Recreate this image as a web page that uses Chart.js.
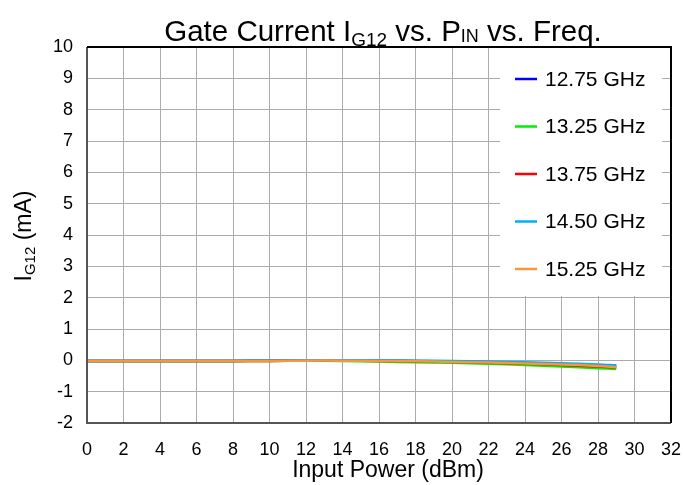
<!DOCTYPE html>
<html>
<head>
<meta charset="utf-8">
<script src="https://cdn.jsdelivr.net/npm/chart.js@4.4.1/dist/chart.umd.min.js"></script>
<style>
  html, body { margin: 0; padding: 0; background: #fff; overflow: hidden; }
  #wrap { width: 683px; height: 485px; }
</style>
</head>
<body>
<div id="wrap"><canvas id="gateChart"></canvas></div>
<script>
// Datos
const pin = [0, 2, 4, 6, 8, 10, 12, 14, 16, 18, 20, 22, 24, 26, 28, 29];
const freqLabels = ['12.75 GHz', '13.25 GHz', '13.75 GHz', '14.50 GHz', '15.25 GHz'];
const colors = ['#0000ff', '#00ee00', '#ff0000', '#00b0f0', '#f7963c'];

const ig1275 = [-0.02, -0.02, -0.02, -0.02, -0.02, -0.01, 0, 0, -0.01, -0.02, -0.04, -0.06, -0.09, -0.12, -0.16, -0.19];
const ig1325 = [-0.02, -0.02, -0.02, -0.02, -0.02, -0.02, -0.01, -0.02, -0.04, -0.06, -0.08, -0.11, -0.15, -0.20, -0.25, -0.28];
const ig1375 = [-0.02, -0.02, -0.02, -0.02, -0.02, -0.02, -0.01, -0.01, -0.02, -0.03, -0.05, -0.08, -0.11, -0.15, -0.20, -0.23];
const ig1450 = [-0.02, -0.02, -0.02, -0.02, -0.02, -0.01, 0, 0, 0, -0.01, -0.02, -0.04, -0.06, -0.09, -0.13, -0.16];
const ig1525 = [-0.02, -0.02, -0.02, -0.02, -0.02, -0.02, -0.01, -0.01, -0.02, -0.03, -0.05, -0.07, -0.10, -0.13, -0.18, -0.22];
const series = [ig1275, ig1325, ig1375, ig1450, ig1525];

const xTicks = [0, 2, 4, 6, 8, 10, 12, 14, 16, 18, 20, 22, 24, 26, 28, 30, 32];
const yTicks = [-2, -1, 0, 1, 2, 3, 4, 5, 6, 7, 8, 9, 10];

const FONT = "'Liberation Sans', Arial, Helvetica, sans-serif";

// Dibuja un texto con partes en subíndice
function drawParts(ctx, parts, x, y, align) {
  let total = 0;
  parts.forEach(p => { ctx.font = p.size + 'px ' + FONT; p.w = ctx.measureText(p.t).width; total += p.w; });
  let cx = align === 'center' ? x - total / 2 : x;
  ctx.textAlign = 'left';
  ctx.textBaseline = 'alphabetic';
  parts.forEach(p => {
    ctx.font = p.size + 'px ' + FONT;
    ctx.fillText(p.t, cx, y + (p.dy || 0));
    cx += p.w;
  });
}

const decorPlugin = {
  id: 'decor',
  afterDraw(chart) {
    const ctx = chart.ctx;
    const a = chart.chartArea;
    ctx.save();
    ctx.fillStyle = '#000';
    // Título
    drawParts(ctx, [
      { t: 'Gate Current I', size: 29.5 },
      { t: 'G12', size: 19, dy: 5 },
      { t: ' vs. P', size: 29.5 },
      { t: 'IN', size: 18, dy: 1 },
      { t: ' vs. Freq.', size: 29.5 }
    ], 383, 41, 'center');

    // Título del eje X
    drawParts(ctx, [{ t: 'Input Power (dBm)', size: 23 }], 388, 477, 'center');

    // Título del eje Y
    ctx.save();
    ctx.translate(31, 236);
    ctx.rotate(-Math.PI / 2);
    drawParts(ctx, [
      { t: 'I', size: 23 },
      { t: 'G12', size: 15, dy: 4 },
      { t: ' (mA)', size: 23 }
    ], 0, 0, 'center');
    ctx.restore();

    // Leyenda dentro del área
    ctx.fillStyle = '#fff';
    ctx.fillRect(500, a.top + 1, 162, 248);
    chart.data.datasets.forEach((ds, i) => {
      const y = a.top + 32 + i * 47.5;
      ctx.strokeStyle = ds.borderColor;
      ctx.lineWidth = 2.5;
      ctx.beginPath();
      ctx.moveTo(515, y);
      ctx.lineTo(537, y);
      ctx.stroke();
      ctx.fillStyle = '#000';
      ctx.font = '21px ' + FONT;
      ctx.textAlign = 'left';
      ctx.textBaseline = 'middle';
      ctx.fillText(ds.label, 545, y + 1);
    });

    // Marco
    ctx.lineWidth = 2;
    ctx.strokeStyle = '#555';
    ctx.beginPath();
    ctx.moveTo(a.left, a.top);
    ctx.lineTo(a.left, a.bottom);
    ctx.lineTo(a.right, a.bottom);
    ctx.stroke();
    ctx.strokeStyle = '#000';
    ctx.beginPath();
    ctx.moveTo(a.left, a.top);
    ctx.lineTo(a.right, a.top);
    ctx.lineTo(a.right, a.bottom);
    ctx.stroke();
    ctx.restore();
  }
};

// El primer conjunto queda debajo, el último (naranja) encima
const datasets = series.map((vals, i) => ({
  label: freqLabels[i],
  data: vals.map((v, k) => ({ x: pin[k], y: v })),
  borderColor: colors[i],
  backgroundColor: colors[i],
  borderWidth: 2.5,
  pointRadius: 0,
  tension: 0.3,
  fill: false,
  order: series.length - i
}));

new Chart(document.getElementById('gateChart'), {
  type: 'scatter',
  data: { datasets },
  options: {
    responsive: true,
    maintainAspectRatio: false,
    animation: false,
    showLine: true,
    layout: { padding: { top: 47, right: 12, left: 0, bottom: 0 } },
    plugins: {
      legend: { display: false },
      title: { display: false },
      tooltip: { enabled: false }
    },
    scales: {
      x: {
        type: 'linear',
        min: 0,
        max: 32,
        afterBuildTicks(scale) { scale.ticks = xTicks.map(v => ({ value: v })); },
        afterFit(scale) { scale.height = 62; },
        ticks: { color: '#000', font: { family: FONT, size: 18 }, padding: 0, maxRotation: 0, autoSkip: false },
        grid: { color: '#ababab', lineWidth: 1, drawTicks: true, tickLength: 16, tickColor: 'rgba(0,0,0,0)' },
        border: { display: false }
      },
      y: {
        min: -2,
        max: 10,
        afterBuildTicks(scale) { scale.ticks = yTicks.map(v => ({ value: v })); },
        afterFit(scale) { scale.width = 87; },
        ticks: { color: '#000', font: { family: FONT, size: 18 }, padding: 14, autoSkip: false },
        grid: { color: '#ababab', lineWidth: 1, drawTicks: false },
        border: { display: false }
      }
    }
  },
  plugins: [decorPlugin]
});
</script>
</body>
</html>
